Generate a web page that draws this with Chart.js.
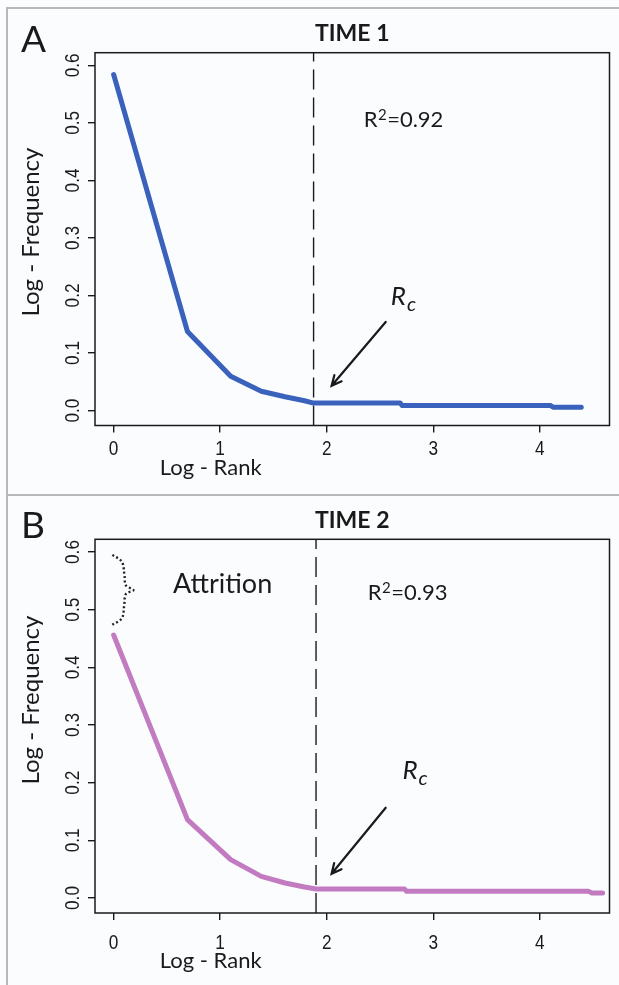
<!DOCTYPE html>
<html>
<head>
<meta charset="utf-8">
<script src="https://cdn.jsdelivr.net/npm/chart.js@4.4.1/dist/chart.umd.min.js"></script>
<style>
  html, body { margin: 0; padding: 0; background: #fbfcfe; }
  body { width: 619px; height: 985px; position: relative; overflow: hidden; }
  .frame { position: absolute; left: 6px; top: 7px; width: 700px; height: 1100px;
           border-left: 2px solid #b6b8bb; border-top: 2px solid #b6b8bb; }
  .divider { position: absolute; left: 6px; top: 494px; width: 700px; height: 2px; background: #b6b8bb; }
  canvas { position: absolute; left: 0; }
  #chartA { top: 0; }
  #chartB { top: 496px; }
</style>
</head>
<body>
<div class="frame"></div>
<div class="divider"></div>
<canvas id="chartA" width="619" height="494"></canvas>
<canvas id="chartB" width="619" height="489"></canvas>
<script>
/* ── Data ─────────────────────────────────────────── */
const xTicks = [0, 1, 2, 3, 4];
const yTicks = [0, 0.1, 0.2, 0.3, 0.4, 0.5, 0.6];

// Time 1 (log-rank vs log-frequency)
const rankA = [0, 0.693, 1.099, 1.386, 1.609, 1.792, 1.877, 2.69, 2.71, 4.10, 4.13, 4.39];
const freqA = [0.584, 0.1375, 0.0595, 0.0335, 0.024, 0.017, 0.013, 0.013, 0.0087, 0.0087, 0.0056, 0.0056];
const rcA = 1.877;

// Time 2
const rankB = [0, 0.693, 1.099, 1.386, 1.609, 1.792, 1.90, 2.73, 2.75, 4.46, 4.49, 4.59];
const freqB = [0.456, 0.136, 0.0666, 0.0376, 0.026, 0.019, 0.0157, 0.0157, 0.0115, 0.0115, 0.0087, 0.0087];
const rcB = 1.90;

// dotted "attrition" brace (data space)
const braceX = [-0.012, 0.077, 0.102, 0.115, 0.186, 0.115, 0.099, 0.077, -0.012];
const braceY = [0.595, 0.583, 0.559, 0.542, 0.534, 0.527, 0.507, 0.485, 0.474];

const X_MIN = -0.175, X_MAX = 4.655;
const Y_MIN = -0.026, Y_MAX = 0.622;
const INK = '#1a1a1a';
const FONT = 'Lato, "Open Sans", sans-serif';


/* ── Decorations: box, labels, arrow, texts ──────── */
function decor(cfg) {
  return {
    id: 'decor' + cfg.letter,
    afterDraw(chart) {
      const { ctx, chartArea: a, scales: { x, y } } = chart;
      const off = cfg.top;
      ctx.save();
      ctx.fillStyle = INK;
      ctx.strokeStyle = INK;

      // plot box
      ctx.lineWidth = 1.5;
      ctx.strokeRect(a.left, a.top, a.right - a.left, a.bottom - a.top);

      // tick labels (condensed, like R's default)
      ctx.font = '21px "Liberation Sans", Arial, sans-serif';
      ctx.textAlign = 'center';
      ctx.textBaseline = 'alphabetic';
      x.ticks.forEach(t => {
        ctx.save();
        ctx.translate(x.getPixelForValue(t.value), cfg.xLabelY - off);
        ctx.scale(0.82, 1);
        ctx.fillText(String(t.value), 0, 0);
        ctx.restore();
      });
      y.ticks.forEach(t => {
        ctx.save();
        ctx.translate(79, y.getPixelForValue(t.value));
        ctx.rotate(-Math.PI / 2);
        ctx.scale(0.82, 1);
        ctx.fillText(t.value.toFixed(1), 0, 0);
        ctx.restore();
      });

      // axis titles
      ctx.font = '22px ' + FONT;
      ctx.fillText('Log - Rank', 210.7, cfg.xTitleY - off);
      ctx.save();
      ctx.font = '24px ' + FONT;
      ctx.translate(39, cfg.yTitleMid - off);
      ctx.rotate(-Math.PI / 2);
      ctx.fillText('Log - Frequency', 0, 0);
      ctx.restore();

      // panel letter + title
      ctx.textAlign = 'left';
      ctx.font = '37px ' + FONT;
      ctx.fillText(cfg.letter, 21, cfg.letterY - off);
      ctx.textAlign = 'center';
      ctx.font = 'bold 23px ' + FONT;
      ctx.fillText(cfg.title, (a.left + a.right) / 2, cfg.titleY - off);

      // R^2
      ctx.textAlign = 'left';
      let px = x.getPixelForValue(cfg.r2At[0]);
      const py = y.getPixelForValue(cfg.r2At[1]);
      ctx.font = '22px ' + FONT;
      ctx.fillText('R', px, py);
      px += ctx.measureText('R').width + 0.5;
      ctx.font = '15px ' + FONT;
      ctx.fillText('2', px, py - 7);
      px += ctx.measureText('2').width + 0.5;
      ctx.font = '22px ' + FONT;
      ctx.fillText('=' + cfg.r2, px, py);

      // R_c label
      let rx = x.getPixelForValue(cfg.rcLabelAt[0]);
      const ry = y.getPixelForValue(cfg.rcLabelAt[1]);
      ctx.font = 'italic 26px ' + FONT;
      ctx.fillText('R', rx, ry);
      rx += ctx.measureText('R').width + 1;
      ctx.font = 'italic 20px ' + FONT;
      ctx.fillText('c', rx, ry + 6);

      // arrow
      const x1 = x.getPixelForValue(cfg.arrow[0]), y1 = y.getPixelForValue(cfg.arrow[1]);
      const x2 = x.getPixelForValue(cfg.arrow[2]), y2 = y.getPixelForValue(cfg.arrow[3]);
      const ang = Math.atan2(y2 - y1, x2 - x1);
      ctx.lineWidth = 2.2;
      ctx.lineCap = 'round';
      ctx.beginPath();
      ctx.moveTo(x1, y1);
      ctx.lineTo(x2, y2);
      ctx.moveTo(x2 - 11 * Math.cos(ang - 0.45), y2 - 11 * Math.sin(ang - 0.45));
      ctx.lineTo(x2, y2);
      ctx.lineTo(x2 - 11 * Math.cos(ang + 0.45), y2 - 11 * Math.sin(ang + 0.45));
      ctx.stroke();

      // attrition label
      if (cfg.noteAt) {
        ctx.font = '27px ' + FONT;
        ctx.fillText('Attrition', x.getPixelForValue(cfg.noteAt[0]), y.getPixelForValue(cfg.noteAt[1]));
      }
      ctx.restore();
    }
  };
}


/* ── Chart builder ───────────────────────────────── */
function makeChart(id, cfg) {
  const datasets = [
    {
      data: cfg.rank.map((v, i) => ({ x: v, y: cfg.freq[i] })),
      showLine: true,
      borderColor: cfg.color,
      borderWidth: 5,
      borderJoinStyle: 'round',
      borderCapStyle: 'round',
      pointRadius: 0,
    },
    {
      data: [{ x: cfg.rc, y: Y_MIN }, { x: cfg.rc, y: Y_MAX }],
      showLine: true,
      borderColor: INK,
      borderWidth: 1.4,
      borderDash: [20, 8],
      pointRadius: 0,
    },
  ];
  if (cfg.brace) {
    datasets.push({
      data: braceX.map((v, i) => ({ x: v, y: braceY[i] })),
      showLine: true,
      borderColor: '#222',
      borderWidth: 2.4,
      borderDash: [2, 2.4],
      tension: 0.35,
      pointRadius: 0,
    });
  }

  const axisGrid = { drawOnChartArea: false, drawTicks: true, tickLength: 7, color: INK, lineWidth: 1.4 };

  return new Chart(document.getElementById(id), {
    type: 'scatter',
    data: { datasets },
    options: {
      responsive: false,
      animation: false,
      events: [],
      layout: { padding: cfg.pad },
      plugins: { legend: { display: false }, tooltip: { enabled: false } },
      scales: {
        x: {
          type: 'linear', min: X_MIN, max: X_MAX,
          afterBuildTicks: s => { s.ticks = xTicks.map(v => ({ value: v })); },
          afterFit: s => { s.height = 0; },
          ticks: { display: false },
          grid: axisGrid,
          border: { display: false },
        },
        y: {
          type: 'linear', min: Y_MIN, max: Y_MAX,
          afterBuildTicks: s => { s.ticks = yTicks.map(v => ({ value: v })); },
          afterFit: s => { s.width = 0; },
          ticks: { display: false },
          grid: axisGrid,
          border: { display: false },
        },
      },
    },
    plugins: [decor(cfg)],
  });
}

makeChart('chartA', {
  letter: 'A', title: 'TIME 1', top: 0,
  pad: { left: 95, top: 52.7, right: 9.5, bottom: 68.5 },
  rank: rankA, freq: freqA, rc: rcA, color: '#3a62bd',
  xLabelY: 455, xTitleY: 475, yTitleMid: 232, letterY: 52, titleY: 41,
  r2: '0.92', r2At: [2.347, 0.4925],
  rcLabelAt: [2.601, 0.184], arrow: [2.554, 0.154, 2.046, 0.043],
});

makeChart('chartB', {
  letter: 'B', title: 'TIME 2', top: 496,
  pad: { left: 95, top: 43.3, right: 9.5, bottom: 72 },
  rank: rankB, freq: freqB, rc: rcB, color: '#c27bc1', brace: true,
  xLabelY: 949, xTitleY: 968, yTitleMid: 700, letterY: 538, titleY: 528,
  r2: '0.93', r2At: [2.385, 0.517],
  rcLabelAt: [2.711, 0.206], arrow: [2.554, 0.1565, 2.046, 0.042],
  noteAt: [0.557, 0.529],
});
</script>
</body>
</html>
